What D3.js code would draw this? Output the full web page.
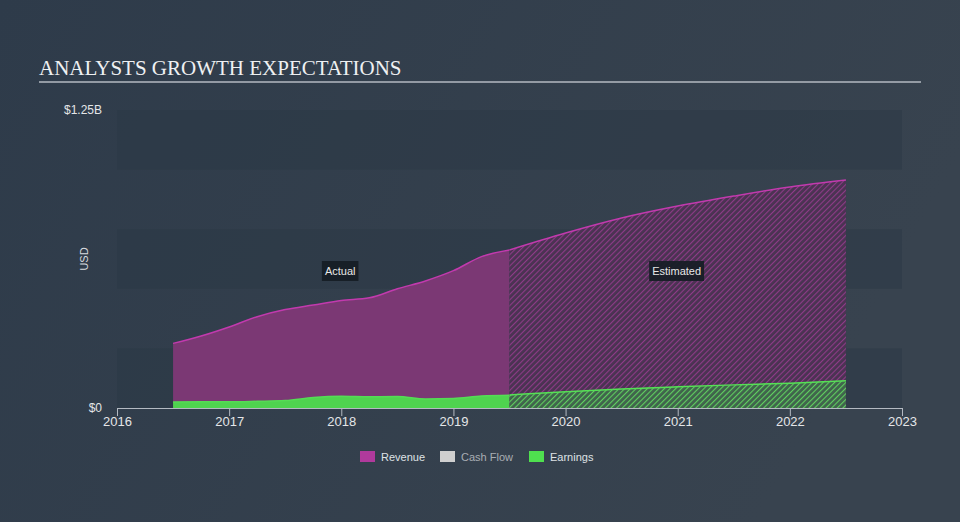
<!DOCTYPE html>
<html>
<head>
<meta charset="utf-8">
<script src="https://cdn.jsdelivr.net/npm/d3@7"></script>
<style>
  body { margin: 0; background: #333f4d; }
  svg { display: block; }
</style>
</head>
<body>
<svg></svg>
<script>
const years = [2016, 2017, 2018, 2019, 2020, 2021, 2022, 2023]

const revenueActualT = [2016.5, 2016.75, 2017.0, 2017.25, 2017.5, 2017.75, 2018.0, 2018.25, 2018.5, 2018.75, 2019.0, 2019.25, 2019.5]
const revenueActual = [0.271, 0.302, 0.340, 0.383, 0.413, 0.432, 0.451, 0.462, 0.500, 0.533, 0.576, 0.635, 0.663]
const revenueEstT = [2019.5, 2020.0, 2020.5, 2021.0, 2021.5, 2022.0, 2022.5]
const revenueEst = [0.663, 0.734, 0.797, 0.847, 0.889, 0.927, 0.956]

const earningsActualT = [2016.5, 2016.75, 2017.0, 2017.25, 2017.5, 2017.75, 2018.0, 2018.25, 2018.5, 2018.75, 2019.0, 2019.25, 2019.5]
const earningsActual = [0.025, 0.026, 0.026, 0.028, 0.031, 0.044, 0.049, 0.047, 0.048, 0.038, 0.040, 0.050, 0.053]
const earningsEstT = [2019.5, 2020.0, 2020.5, 2021.0, 2021.5, 2022.0, 2022.5]
const earningsEst = [0.055, 0.068, 0.080, 0.089, 0.097, 0.104, 0.114]

const legendItems = ['Revenue', 'Cash Flow', 'Earnings']
const yTickLabels = ['$0', '$1.25B']

const width = 960
const height = 522
const plotLeft = 117
const plotRight = 902
const plotTop = 110
const plotBottom = 408

const svg = d3.select('svg')
  .attr('width', width)
  .attr('height', height)

const defs = svg.append('defs')

const grad = defs.append('linearGradient')
  .attr('id', 'bg')
  .attr('x1', 0).attr('x2', 1).attr('y1', 0).attr('y2', 0.3)
grad.append('stop').attr('offset', 0).attr('stop-color', '#2e3b4a')
grad.append('stop').attr('offset', 1).attr('stop-color', '#38434f')

const makeHatch = (id, base, line) => {
  const p = defs.append('pattern')
    .attr('id', id)
    .attr('patternUnits', 'userSpaceOnUse')
    .attr('width', 4)
    .attr('height', 4)
    .attr('patternTransform', 'rotate(45)')
  p.append('rect').attr('width', 4).attr('height', 4).attr('fill', base)
  p.append('line')
    .attr('x1', 0).attr('y1', 0).attr('x2', 0).attr('y2', 4)
    .attr('stroke', line)
    .attr('stroke-width', 2.2)
}
makeHatch('hatchRev', '#4a3352', '#8e3b88')
makeHatch('hatchEarn', '#40634c', '#60cf60')

svg.append('rect')
  .attr('width', width)
  .attr('height', height)
  .attr('fill', 'url(#bg)')

const x = d3.scaleLinear().domain([2016, 2023]).range([plotLeft, plotRight])
const y = d3.scaleLinear().domain([0, 1.25]).range([plotBottom, plotTop])

// alternating bands
const bandEdges = d3.range(0, 1.25, 0.25)
svg.append('g')
  .selectAll('rect')
  .data(bandEdges.filter((_, i) => i % 2 === 0))
  .join('rect')
  .attr('x', plotLeft)
  .attr('width', plotRight - plotLeft)
  .attr('y', d => y(d + 0.25))
  .attr('height', d => y(d) - y(d + 0.25))
  .attr('fill', '#2b3744')
  .attr('opacity', 0.45)

// title
svg.append('text')
  .attr('x', 39)
  .attr('y', 75)
  .attr('font-family', 'Liberation Serif, serif')
  .attr('font-size', 21)
  .attr('fill', '#eef0f2')
  .text('ANALYSTS GROWTH EXPECTATIONS')
svg.append('line')
  .attr('x1', 39).attr('x2', 921)
  .attr('y1', 82).attr('y2', 82)
  .attr('stroke', '#b4bac2')
  .attr('stroke-width', 1.5)

const zip = (t, v) => t.map((d, i) => ({ t: d, v: v[i] }))

const area = d3.area()
  .x(d => x(d.t))
  .y0(y(0))
  .y1(d => y(d.v))
  .curve(d3.curveMonotoneX)
const line = d3.line()
  .x(d => x(d.t))
  .y(d => y(d.v))
  .curve(d3.curveMonotoneX)

const series = [
  { data: zip(revenueActualT, revenueActual), fill: '#7b3874', stroke: '#c23aae' },
  { data: zip(revenueEstT, revenueEst), fill: 'url(#hatchRev)', stroke: '#c23aae' },
  { data: zip(earningsActualT, earningsActual), fill: '#4fd34f', stroke: '#55dc55' },
  { data: zip(earningsEstT, earningsEst), fill: 'url(#hatchEarn)', stroke: '#55e055' },
]

const marks = svg.append('g')
series.forEach(s => {
  marks.append('path')
    .attr('d', area(s.data))
    .attr('fill', s.fill)
  marks.append('path')
    .attr('d', line(s.data))
    .attr('fill', 'none')
    .attr('stroke', s.stroke)
    .attr('stroke-width', 1.5)
})

// x axis
const xAxis = svg.append('g')
  .attr('transform', `translate(0, ${plotBottom})`)
  .call(d3.axisBottom(x).tickValues(years).tickFormat(d3.format('d')).tickSize(8).tickSizeOuter(0))
xAxis.select('.domain').attr('stroke', '#b4bac2')
xAxis.selectAll('.tick line').attr('stroke', '#b4bac2')
xAxis.selectAll('.tick text')
  .attr('fill', '#e4e6e8')
  .attr('font-family', 'Liberation Sans, Arial, sans-serif')
  .attr('font-size', 13)
  .attr('dy', '0.55em')

// y labels
svg.append('g')
  .selectAll('text')
  .data([0, 1.25])
  .join('text')
  .attr('x', 102)
  .attr('y', d => y(d) + 4)
  .attr('text-anchor', 'end')
  .attr('font-family', 'Liberation Sans, Arial, sans-serif')
  .attr('font-size', 12)
  .attr('fill', '#e4e6e8')
  .text((_, i) => yTickLabels[i])

svg.append('text')
  .attr('transform', `translate(88, ${(plotTop + plotBottom) / 2}) rotate(-90)`)
  .attr('text-anchor', 'middle')
  .attr('font-family', 'Liberation Sans, Arial, sans-serif')
  .attr('font-size', 11)
  .attr('fill', '#d8dbde')
  .text('USD')

// Actual / Estimated labels
const tags = [{ t: 2018.0, label: 'Actual' }, { t: 2021.0, label: 'Estimated' }]
tags.forEach(tag => {
  const g = svg.append('g').attr('transform', `translate(${x(tag.t - 0.01)}, 271)`)
  const txt = g.append('text')
    .attr('text-anchor', 'middle')
    .attr('dy', '0.35em')
    .attr('font-family', 'Liberation Sans, Arial, sans-serif')
    .attr('font-size', 11)
    .attr('fill', '#e8e8e8')
    .text(tag.label)
  const bb = txt.node().getBBox()
  g.insert('rect', 'text')
    .attr('x', bb.x - 3)
    .attr('y', -10)
    .attr('width', bb.width + 6)
    .attr('height', 20)
    .attr('fill', '#161d25')
    .attr('opacity', 0.92)
})

// legend
const legendColors = ['#b03a9c', '#cfcfcf', '#4fe04f']
const legendX = [360, 440, 529]
const legend = svg.append('g')
  .selectAll('g')
  .data(legendItems)
  .join('g')
  .attr('transform', (_, i) => `translate(${legendX[i]}, 451)`)
legend.append('rect')
  .attr('width', 15)
  .attr('height', 11)
  .attr('fill', (_, i) => legendColors[i])
legend.append('text')
  .attr('x', 21)
  .attr('y', 10)
  .attr('font-family', 'Liberation Sans, Arial, sans-serif')
  .attr('font-size', 11)
  .attr('fill', (_, i) => i === 1 ? '#a9aeb4' : '#dfe2e5')
  .text(d => d)
</script>
</body>
</html>
